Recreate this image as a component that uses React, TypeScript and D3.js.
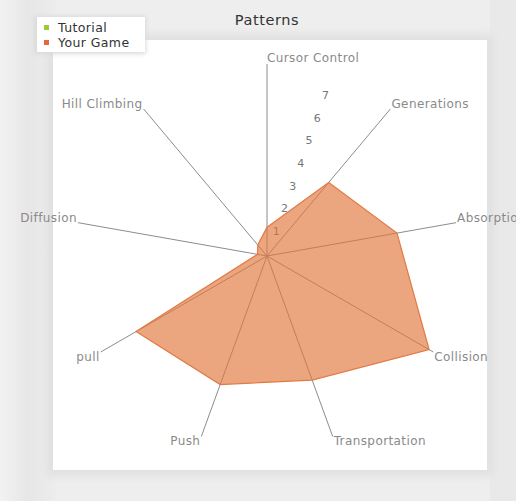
import React from "react";
import * as d3 from "d3";

const categories = [
  "Cursor Control",
  "Generations",
  "Absorption",
  "Collision",
  "Transportation",
  "Push",
  "pull",
  "Diffusion",
  "Hill Climbing",
];
const yourGame = [1.2, 4.0, 5.5, 7.8, 5.5, 5.7, 6.3, 0.4, 0.6];
const tutorial = [0, 0, 0, 0, 0, 0, 0, 0, 0];
const tickValues = [1, 2, 3, 4, 5, 6, 7];
const seriesNames = ["Tutorial", "Your Game"];
const seriesColors = ["#9acd32", "#e8663a"];

const W = 516;
const H = 501;
const cx = 267;
const cy = 256;
const R = 192;
const maxV = 8;

export default function App() {
  const r = d3.scaleLinear().domain([0, maxV]).range([0, R]);
  const ang = d3
    .scaleLinear()
    .domain([0, categories.length])
    .range([0, 2 * Math.PI]);
  const pt = (i: number, v: number) => {
    const a = ang(i);
    return [cx + Math.sin(a) * r(v), cy - Math.cos(a) * r(v)];
  };
  const radial = d3
    .lineRadial<number>()
    .angle((_, i) => ang(i))
    .radius((d) => r(d))
    .curve(d3.curveLinearClosed);

  const tickAngle = ang(0.5);

  return (
    <svg
      width={W}
      height={H}
      style={{ position: "fixed", left: 0, top: 0, fontFamily: "DejaVu Sans, sans-serif" }}
    >
      <defs>
        <filter id="blur" x="-10%" y="-10%" width="120%" height="120%">
          <feGaussianBlur stdDeviation="4" />
        </filter>
        <filter id="blur2" x="-20%" y="-50%" width="140%" height="200%">
          <feGaussianBlur stdDeviation="2" />
        </filter>
        <linearGradient id="bgLeft" x1="0" x2="1" y1="0" y2="0">
          <stop offset="0" stopColor="#f2f2f2" />
          <stop offset="0.5" stopColor="#e7e7e7" />
          <stop offset="1" stopColor="#ececec" />
        </linearGradient>
      </defs>
      <rect x={0} y={0} width={W} height={H} fill="#eeeeee" />
      <rect x={0} y={0} width={55} height={H} fill="url(#bgLeft)" />
      <rect x={490} y={0} width={26} height={H} fill="#e9e9e9" />
      <rect x={47} y={34} width={446} height={442} fill="#e0e0e0" filter="url(#blur)" />
      <rect x={53} y={40} width={434} height={430} fill="#ffffff" />

      {/* legend */}
      <rect x={34} y={16} width={112} height={38} fill="#dadada" filter="url(#blur2)" />
      <rect x={37} y={17} width={108} height={35} fill="#ffffff" />
      {seriesNames.map((s, i) => (
        <g key={s}>
          <rect x={44} y={25 + i * 15} width={5} height={5} fill={seriesColors[i]} />
          <text x={58} y={32 + i * 15} fontSize={12.5} fill="#333" letterSpacing={0.4}>
            {s}
          </text>
        </g>
      ))}

      <text x={267} y={25} fontSize={14.5} fill="#333" textAnchor="middle" letterSpacing={0.6}>
        Patterns
      </text>

      {/* axes */}
      {categories.map((c, i) => {
        const [x, y] = pt(i, maxV);
        const a = ang(i);
        const s = Math.sin(a);
        const co = Math.cos(a);
        let anchor = "start";
        if (s < -0.1) anchor = "end";
        let ly = y + (co > 0 ? -5 : 5) + 4;
        let lx = x + (s > 0.1 ? 1 : s < -0.1 ? -1 : 0);
        if (i === 0) ly = y - 2;
        return (
          <g key={c}>
            <line x1={cx} y1={cy} x2={x} y2={y} stroke="#8c8c8c" strokeWidth={1} />
            <text
              x={lx}
              y={ly}
              fontSize={12}
              fill="#8a8a8a"
              textAnchor={anchor}
              letterSpacing={0.4}
            >
              {c}
            </text>
          </g>
        );
      })}

      {/* tick labels */}
      {tickValues.map((t) => (
        <text
          key={t}
          x={cx + Math.sin(tickAngle) * (r(t) + 3)}
          y={cy - Math.cos(tickAngle) * (r(t) + 3) + 4}
          fontSize={11}
          fill="#777"
          textAnchor="middle"
        >
          {t}
        </text>
      ))}

      {/* series */}
      <path
        d={radial(tutorial) || ""}
        transform={`translate(${cx},${cy})`}
        fill={seriesColors[0]}
        fillOpacity={0.6}
        stroke={seriesColors[0]}
      />
      <path
        d={radial(yourGame) || ""}
        transform={`translate(${cx},${cy})`}
        fill="#e0743a"
        fillOpacity={0.65}
        stroke="#e27a45"
        strokeWidth={1.2}
      />
    </svg>
  );
}
